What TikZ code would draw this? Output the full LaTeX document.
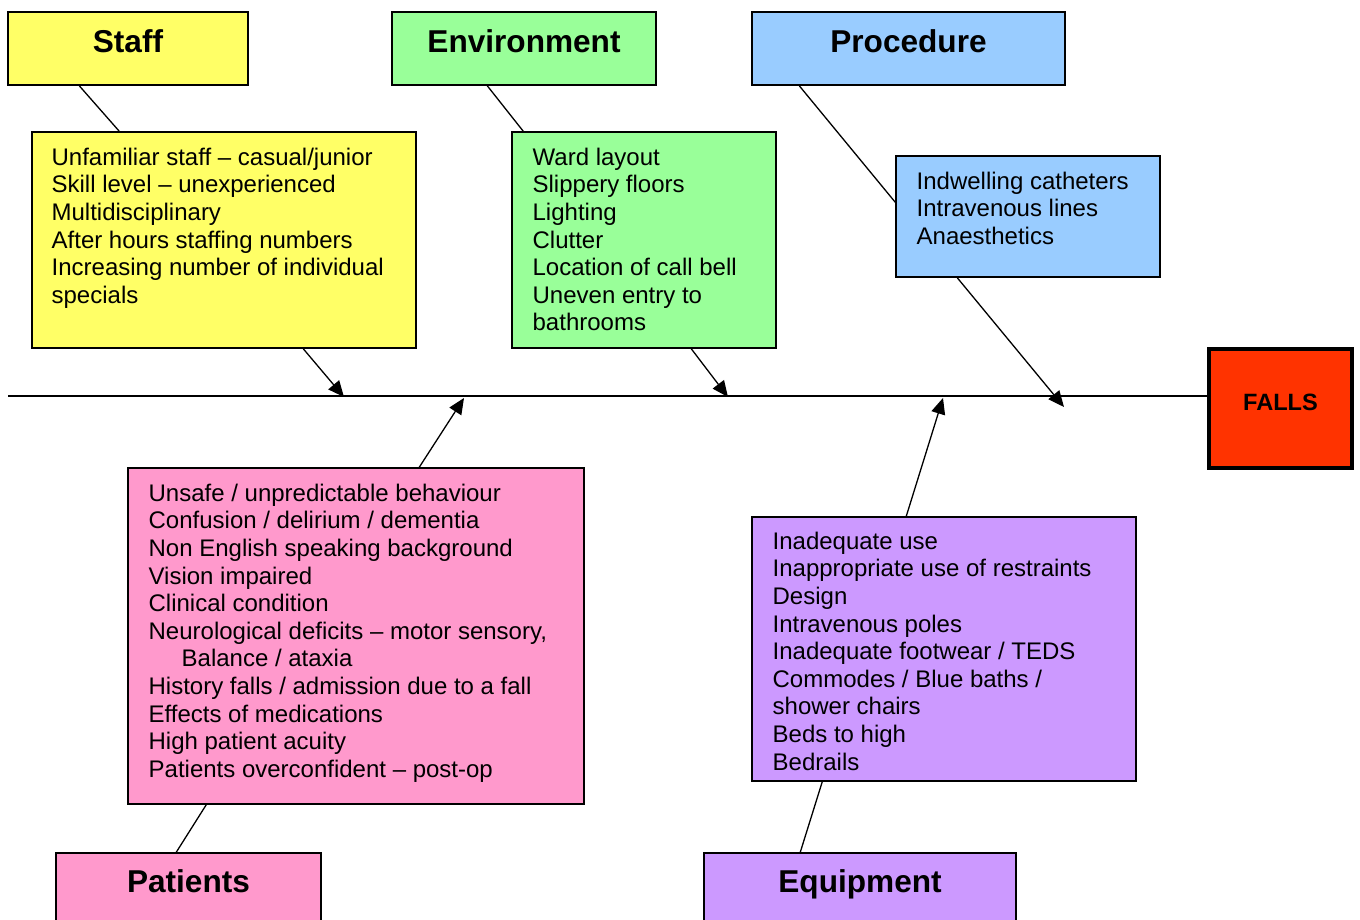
\documentclass[tikz,border=0pt]{standalone}
\usepackage{fontspec}
\setmainfont{Liberation Sans}
\usetikzlibrary{arrows.meta,fit,calc}
\definecolor{staffc}{HTML}{FFFF66}
\definecolor{envc}{HTML}{99FF99}
\definecolor{procc}{HTML}{99CCFF}
\definecolor{patc}{HTML}{FF99CC}
\definecolor{equc}{HTML}{CC99FF}
\definecolor{fallsc}{HTML}{FF3300}
\tikzset{
  boxstyle/.style={draw=black, line width=0.75pt, inner sep=0pt, rectangle},
  hdrtxt/.style={font=\fontsize{15.8pt}{18pt}\selectfont\bfseries, inner sep=0pt, anchor=base},
  bodytxt/.style={font=\fontsize{12pt}{13.8pt}\selectfont, align=left, inner sep=0pt, anchor=base west},
  conn/.style={draw=black, line width=0.65pt},
  arr/.style={conn, -{Triangle[length=8pt,width=7pt]}},
}
\begin{document}
\begin{tikzpicture}[x=0.5pt,y=-0.5pt]
\useasboundingbox (0,0) rectangle (1360,920);
\clip (0,0) rectangle (1360,920);
\fill[white] (0,0) rectangle (1360,920);

% header boxes
\node[boxstyle, fill=staffc, fit={(8,12) (248,85)}] (staffh) {};
\node[boxstyle, fill=envc, fit={(392,12) (656,85)}] (envh) {};
\node[boxstyle, fill=procc, fit={(752,12) (1065,85)}] (proch) {};
\node[boxstyle, fill=patc, fit={(56,853) (321,940)}] (path) {};
\node[boxstyle, fill=equc, fit={(704,853) (1016,940)}] (equh) {};

\node[hdrtxt] (stafflbl) at ($(staffh.north)+(0,41)$) {Staff};
\node[hdrtxt] (envlbl) at ($(envh.north)+(0,41)$) {Environment};
\node[hdrtxt] (proclbl) at ($(proch.north)+(0,41)$) {Procedure};
\node[hdrtxt] (patlbl) at ($(path.north)+(0,40)$) {Patients};
\node[hdrtxt] (equlbl) at ($(equh.north)+(0,40)$) {Equipment};

% detail boxes
\node[boxstyle, fill=staffc, fit={(32,132) (416,348)}] (staffd) {};
\node[boxstyle, fill=envc, fit={(512,132) (776,348)}] (envd) {};
\node[boxstyle, fill=procc, fit={(896,156) (1160,277)}] (procd) {};
\node[boxstyle, fill=patc, fit={(128,468) (584,804)}] (patd) {};
\node[boxstyle, fill=equc, fit={(752,517) (1136,781)}] (equd) {};

% (base anchor = last line's baseline)
\node[bodytxt] (stafft) at ($(staffd.north west)+(20,172)$) {Unfamiliar staff -- casual/junior\\Skill level -- unexperienced\\Multidisciplinary\\After hours staffing numbers\\Increasing number of individual\\specials};
\node[bodytxt] (envt) at ($(envd.north west)+(21,199.6)$) {Ward layout\\Slippery floors\\Lighting\\Clutter\\Location of call bell\\Uneven entry to\\bathrooms};
\node[bodytxt] (proct) at ($(procd.north west)+(21,89.2)$) {Indwelling catheters\\Intravenous lines\\Anaesthetics};
\node[bodytxt] (patt) at ($(patd.north west)+(21,310)$) {Unsafe / unpredictable behaviour\\Confusion / delirium / dementia\\Non English speaking background\\Vision impaired\\Clinical condition\\Neurological deficits -- motor sensory,\\\hspace*{16.5pt}Balance / ataxia\\History falls / admission due to a fall\\Effects of medications\\High patient acuity\\Patients overconfident -- post-op};
\node[bodytxt] (equt) at ($(equd.north west)+(21,253.8)$) {Inadequate use\\Inappropriate use of restraints\\Design\\Intravenous poles\\Inadequate footwear / TEDS\\Commodes / Blue baths /\\shower chairs\\Beds to high\\Bedrails};

% FALLS
\node[draw=black, line width=2pt, fill=fallsc, inner sep=0pt, fit={(1209,349) (1352,468)}] (falls) {};
\node[font=\fontsize{11.8pt}{14pt}\selectfont\bfseries, inner sep=0pt, anchor=base] (fallslbl) at ($(falls.north)+(0,63)$) {FALLS};

% spine
\coordinate (spineL) at (8,396);
\draw[conn, line width=0.75pt] (spineL) -- (spineL -| falls.west);

% header-to-detail lines
\draw[conn] ($(staffh.south west)+(72,0)$) -- ($(staffd.north west)+(88,0)$);
\draw[conn] ($(envh.south west)+(96,0)$) -- ($(envd.north west)+(12,0)$);
\draw[conn] ($(proch.south west)+(48,0)$) -- ($(procd.north west)+(0,47)$);
\draw[conn] ($(path.north west)+(121,0)$) -- ($(patd.south west)+(79,0)$);
\draw[conn] ($(equh.north west)+(97,0)$) -- ($(equd.south west)+(71,0)$);

% arrows to spine
\coordinate (tipS) at (344,397);
\coordinate (tipE) at (728,397);
\coordinate (tipP) at (1064,407);
\coordinate (tipPa) at (464,398);
\coordinate (tipEq) at (943,398);
\draw[arr] ($(staffd.south west)+(272,0)$) -- (tipS);
\draw[arr] ($(envd.south west)+(180,0)$) -- (tipE);
\draw[arr] ($(procd.south west)+(62,0)$) -- (tipP);
\draw[arr] ($(patd.north west)+(292,0)$) -- (tipPa);
\draw[arr] ($(equd.north west)+(155,0)$) -- (tipEq);
\end{tikzpicture}
\end{document}
